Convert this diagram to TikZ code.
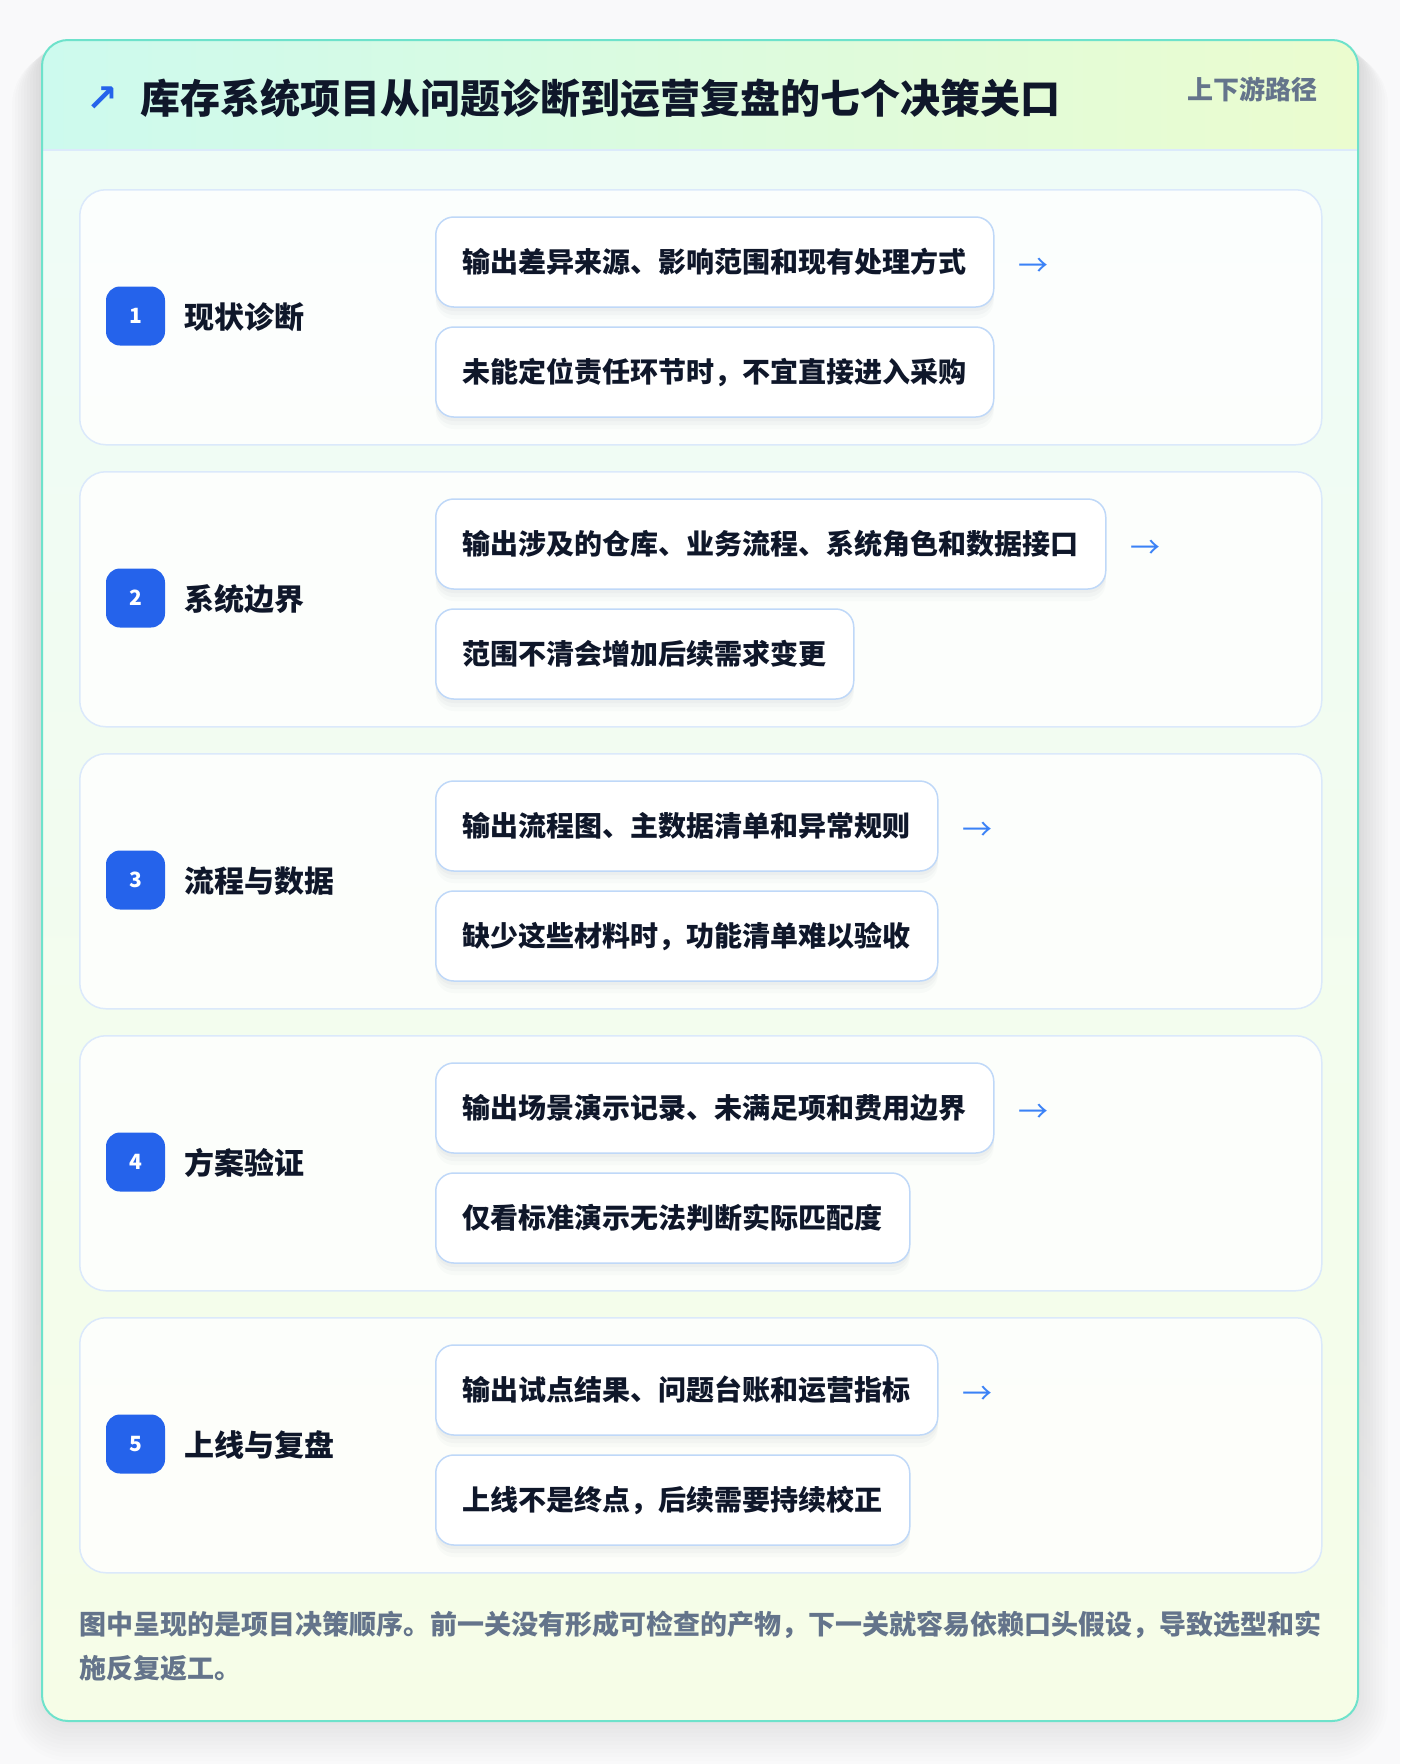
\documentclass[tikz,border=0pt]{standalone}
\usepackage{fontspec}
\setmainfont{Noto Sans CJK SC}
\newfontfamily\symfont{DejaVu Sans}

\definecolor{pagebg}{HTML}{F9F9FA}
\definecolor{cardline}{HTML}{6EE2CB}
\definecolor{headleft}{HTML}{CDFAEE}
\definecolor{headright}{HTML}{EBFCCF}
\definecolor{bodytop}{HTML}{EFFCF7}
\definecolor{bodybottom}{HTML}{F6FDE7}
\definecolor{sepline}{HTML}{DCEAFB}
\definecolor{stageline}{HTML}{DBE9FB}
\definecolor{itemline}{HTML}{BFD8F8}
\definecolor{badge}{HTML}{2563EB}
\definecolor{ink}{HTML}{0F172A}
\definecolor{muted}{HTML}{64748B}
\definecolor{arrowblue}{HTML}{3B82F6}
\definecolor{shade}{HTML}{475569}

\tikzset{
  stagebox/.style={draw=stageline, line width=1.5pt, fill=white, fill opacity=0.8,
    rounded corners=26pt, minimum width=1242pt, minimum height=255pt, anchor=north west},
  itembox/.style={draw=itemline, line width=1.5pt, fill=white, rounded corners=18pt,
    minimum height=90pt, inner xsep=27pt, anchor=west, text=ink,
    font=\fontsize{28}{34}\selectfont\bfseries,
    preaction={fill=shade, fill opacity=0.025, draw=none, transform canvas={yshift=-12pt}},
    preaction={fill=shade, fill opacity=0.03, draw=none, transform canvas={yshift=-8pt}},
    preaction={fill=shade, fill opacity=0.035, draw=none, transform canvas={yshift=-4pt}}},
  numbadge/.style={fill=badge, rounded corners=14pt, minimum size=59pt, inner sep=0pt,
    text=white, font=\fontsize{21}{24}\selectfont\bfseries},
  steplabel/.style={anchor=west, inner sep=0pt, text=ink, font=\fontsize{30}{36}\selectfont\bfseries},
  nextarrow/.style={anchor=west, inner sep=0pt, text=arrowblue, font=\fontsize{30}{30}\selectfont},
  notetext/.style={anchor=west, inner sep=0pt, text=muted, font=\fontsize{27}{32}\selectfont\bfseries},
}

\begin{document}
\begin{tikzpicture}[x=1pt, y=-1pt]
  \useasboundingbox (0,0) rectangle (1400,1764);
  \fill[pagebg] (0,0) rectangle (1400,1764);

  % soft card shadow
  \foreach \k in {1,...,10} {
    \fill[shade, opacity=0.009, rounded corners={26pt+3pt*\k}]
      ({42-3*\k},{40+\k}) rectangle ({1358+3*\k},{1721+4*\k});
  }

  % card with header band
  \fill[bodytop, rounded corners=26pt] (42,40) rectangle (1358,1721);
  \begin{scope}
    \clip[rounded corners=26pt] (42,40) rectangle (1358,1721);
    \shade[top color=bodytop, bottom color=bodybottom] (42,150) rectangle (1358,1721);
    \shade[left color=headleft, right color=headright] (42,40) rectangle (1358,150);
  \end{scope}
  \draw[sepline, line width=2pt] (42,150) -- (1358,150);
  \draw[cardline, line width=2pt, rounded corners=26pt] (42,40) rectangle (1358,1721);

  \node[text=badge, inner sep=0pt, font=\symfont\bfseries\fontsize{38}{38}\selectfont] (icon) at (102,99) {↗};
  \node[anchor=west, inner sep=0pt, text=ink, font=\fontsize{40}{48}\selectfont\bfseries] (title) at (140,98)
    {库存系统项目从问题诊断到运营复盘的七个决策关口};
  \node[anchor=east, inner sep=0pt, text=muted, font=\fontsize{26}{30}\selectfont\bfseries] (route) at (1318,89)
    {上下游路径};

  % five decision stages
  \foreach \i/\lab/\out/\risk in {
      1/现状诊断/输出差异来源、影响范围和现有处理方式/未能定位责任环节时，不宜直接进入采购,
      2/系统边界/输出涉及的仓库、业务流程、系统角色和数据接口/范围不清会增加后续需求变更,
      3/流程与数据/输出流程图、主数据清单和异常规则/缺少这些材料时，功能清单难以验收,
      4/方案验证/输出场景演示记录、未满足项和费用边界/仅看标准演示无法判断实际匹配度,
      5/上线与复盘/输出试点结果、问题台账和运营指标/上线不是终点，后续需要持续校正} {
    \pgfmathsetmacro{\y}{189+(\i-1)*282}
    \node[stagebox] (stage\i) at (79,\y) {};
    \node[numbadge] (num\i) at (135.5,{\y+127}) {\i};
    \node[steplabel] (lab\i) at (184,{\y+128}) {\lab};
    \node[itembox] (out\i) at (435,{\y+73}) {\out};
    \node[itembox] (risk\i) at (435,{\y+183}) {\risk};
    \node[nextarrow] (arr\i) at ([xshift=24pt, yshift=-5pt]out\i.east) {→};
  }

  \node[notetext] (note1) at (79,1625)
    {图中呈现的是项目决策顺序。前一关没有形成可检查的产物，下一关就容易依赖口头假设，导致选型和实};
  \node[notetext] (note2) at (79,1668) {施反复返工。};
\end{tikzpicture}
\end{document}
